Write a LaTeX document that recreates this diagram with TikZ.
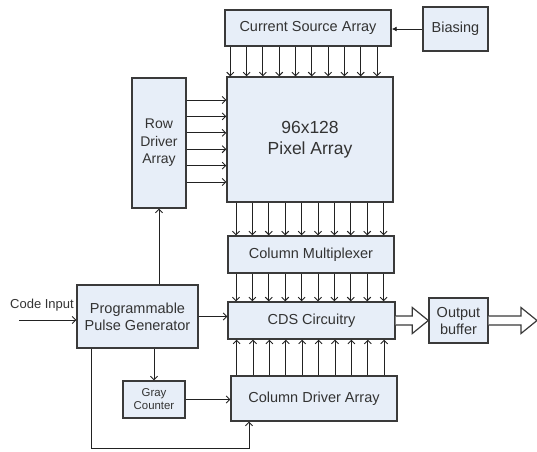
\documentclass[tikz,border=0pt]{standalone}
\usepackage{fontspec}
\setmainfont{Liberation Sans}
\usetikzlibrary{arrows.meta,calc}
\definecolor{boxfill}{HTML}{E7EEF8}
\definecolor{boxline}{HTML}{3A3A3A}
\definecolor{wire}{HTML}{222222}
\tikzset{
  box/.style={draw=boxline, line width=1.4pt, fill=boxfill, inner sep=0pt,
              align=center, text=black!80, font=\fontsize{14.5}{17}\selectfont},
  arr/.style={draw=wire, line width=0.9pt, -{Straight Barb[length=3.5pt,width=7pt]}},
  wireline/.style={draw=wire, line width=0.9pt},
  hollow/.style={draw=boxline, line width=1.2pt, fill=white, line join=miter},
}
% wide outlined arrow between two points on the same height
\newcommand{\widearrow}[2]{%
  \draw[hollow] let \p1=(#1), \p2=(#2) in
    (\x1,\y1+4.5pt) -- (\x2-16pt,\y1+4.5pt) -- (\x2-16pt,\y1+13pt) --
    (\x2,\y1) -- (\x2-16pt,\y1-13pt) -- (\x2-16pt,\y1-4.5pt) -- (\x1,\y1-4.5pt);}
\begin{document}
\begin{tikzpicture}[x=1pt,y=-1pt]
\useasboundingbox (0,0) rectangle (537,451);

% blocks
\node[box, minimum width=166pt, minimum height=36pt] (csa) at (308,28) {Current Source Array};
\node[box, minimum width=65pt, minimum height=44pt] (bias) at (455.5,29) {Biasing};
\node[box, minimum width=166pt, minimum height=125pt,
      font=\fontsize{17.5}{21}\selectfont] (pix) at (310,139.5) {96x128\\Pixel Array};
\node[box, minimum width=54pt, minimum height=130pt,
      font=\fontsize{14}{17.5}\selectfont] (row) at (159,143) {Row\\Driver\\Array};
\node[box, minimum width=166pt, minimum height=37pt] (mux) at (311,254.5) {Column Multiplexer};
\node[box, minimum width=167pt, minimum height=37pt] (cds) at (311.5,320.5) {CDS Circuitry};
\node[box, minimum width=59pt, minimum height=45pt] (obuf) at (458.5,320.5) {Output\\buffer};
\node[box, minimum width=121pt, minimum height=63pt] (ppg) at (137.5,316.5) {Programmable\\Pulse Generator};
\node[box, minimum width=62pt, minimum height=37pt,
      font=\fontsize{11.4}{13}\selectfont] (gray) at (154,399.5) {Gray\\Counter};
\node[box, minimum width=166pt, minimum height=45pt] (cda) at (314,398.5) {Column Driver Array};

% current source columns into the pixel array
\foreach \i in {0,...,9} {
  \path (csa.south west) ++({6+16.3*\i},0) coordinate (a);
  \draw[arr] (a) -- (a |- pix.north);
}
% pixel array columns into the multiplexer
\foreach \i in {0,...,9} {
  \path (pix.south west) ++({9.7+16.4*\i},0) coordinate (a);
  \draw[arr] (a) -- (a |- mux.north);
}
% multiplexer outputs into the CDS stage
\foreach \i in {0,...,9} {
  \path (mux.south west) ++({8.7+16.4*\i},0) coordinate (a);
  \draw[arr] (a) -- (a |- cds.north);
}
% column drivers up into the CDS stage
\foreach \i in {0,...,9} {
  \path (cda.north west) ++({6.3+16.4*\i},0) coordinate (a);
  \draw[arr] (a) -- (a |- cds.south);
}
% row drivers into the pixel array
\foreach \i in {0,...,5} {
  \path (row.north east) ++(0,{22.7+16.4*\i}) coordinate (a);
  \draw[arr] (a) -- (a -| pix.west);
}

% bias feed
\draw[draw=wire, line width=0.9pt, -{Latex[length=5pt,width=5pt]}] (bias.west) -- (bias.west -| csa.east);

% code input
\coordinate (cin) at (19,320);
\node[font=\fontsize{13}{15}\selectfont, text=black!80, anchor=south west, inner sep=0pt] (cinlabel) at (10,311) {Code Input};
\draw[arr] (cin) -- (cin -| ppg.west);

% pulse generator outputs
\draw[arr] (ppg.east) -- (ppg.east -| cds.west);
\draw[arr] (ppg.north -| row.south) -- (row.south);
\draw[arr] (gray.north |- ppg.south) -- (gray.north);
\draw[arr] (gray.east) -- (gray.east -| cda.west);
\path (ppg.south west) ++(15,0) coordinate (f0);
\coordinate (fb) at (249,448);
\draw[arr] (f0) |- (fb) -- (fb |- cda.south);

% data outputs
\coordinate (oend) at (537,320.5);
\widearrow{cds.east}{obuf.west}
\widearrow{obuf.east}{oend}
\end{tikzpicture}
\end{document}
